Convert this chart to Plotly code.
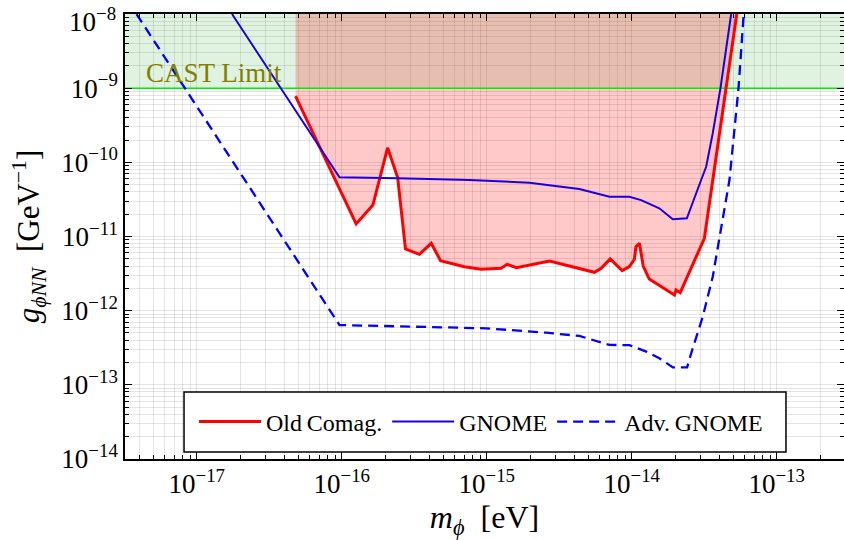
import plotly.graph_objects as go

# ---------------- data ----------------
old_x = [4.8e-17, 1.256e-16, 1.64e-16, 2.07e-16, 2.43e-16, 2.75e-16, 3.43e-16, 4.14e-16,
         4.8e-16, 7.0e-16, 9.15e-16, 1.257e-15, 1.38e-15, 1.6e-15, 2.71e-15, 5.53e-15,
         6.15e-15, 7.1e-15, 8.59e-15, 9.64e-15, 1.043e-14, 1.07e-14, 1.13e-14, 1.2e-14,
         1.32e-14, 1.97e-14, 2.02e-14, 2.16e-14, 3.17e-14, 4.48e-14, 5.3e-14]
old_y = [7.8e-10, 1.48e-11, 2.66e-11, 1.57e-10, 6.25e-11, 6.8e-12, 5.75e-12, 8.1e-12,
         4.72e-12, 3.92e-12, 3.61e-12, 3.73e-12, 4.21e-12, 3.79e-12, 4.68e-12, 3.29e-12,
         3.73e-12, 4.98e-12, 3.46e-12, 3.92e-12, 4.93e-12, 7.3e-12, 8.1e-12, 4.0e-12,
         2.67e-12, 1.63e-12, 1.9e-12, 1.75e-12, 9.46e-12, 1e-9, 1e-8]

gnome_x = [1.75e-17, 9.64e-17, 2.43e-16, 7.6e-16, 1.97e-15, 4.35e-15, 7.02e-15, 9.64e-15,
           1.16e-14, 1.55e-14, 1.92e-14, 2.4e-14, 3.01e-14, 3.26e-14, 3.62e-14, 4.09e-14, 4.85e-14]
gnome_y = [1e-8, 6.28e-11, 6.1e-11, 5.78e-11, 5.32e-11, 4.38e-11, 3.44e-11, 3.44e-11,
           3.1e-11, 2.4e-11, 1.71e-11, 1.76e-11, 5.78e-11, 8.73e-11, 2.47e-10, 9.95e-10, 1e-8]

adv_x = [3.84e-18, 9.64e-17, 3.09e-16, 9.9e-16, 2.57e-15, 4.35e-15, 7.02e-15, 9.64e-15,
         1.26e-14, 1.55e-14, 1.92e-14, 2.41e-14, 2.57e-14, 3.09e-14, 3.62e-14, 4.72e-14,
         5.45e-14, 5.92e-14]
adv_y = [1e-8, 6.4e-13, 6.08e-13, 5.78e-13, 5.04e-13, 4.56e-13, 3.45e-13, 3.42e-13,
         2.8e-13, 2.28e-13, 1.72e-13, 1.72e-13, 2.66e-13, 8.3e-13, 2.87e-12, 5.78e-11,
         1e-9, 1e-8]

cast_limit = 1e-9
y_top = 1e-8

x_decades = [-17, -16, -15, -14, -13]
y_decades = [-14, -13, -12, -11, -10, -9, -8]
x_range = [-17.495, -12.536]
y_range = [-14.0008, -7.9992]

FONT = "Liberation Serif"


def sup_label(e):
    return "10<sup>\u2212%d</sup>" % (-e)


def minor_vals(lo, hi):
    return [m * 10.0 ** d for d in range(lo, hi + 1) for m in range(2, 10)]


x_lo, x_hi = 10 ** x_range[0], 10 ** x_range[1]

fig = go.Figure()

# CAST excluded band
fig.add_trace(go.Scatter(x=[x_lo, x_hi, x_hi, x_lo], y=[cast_limit, cast_limit, y_top, y_top],
                         fill="toself", fillcolor="rgba(0,160,0,0.12)", line=dict(width=0),
                         mode="lines", showlegend=False, hoverinfo="skip"))

# Old comagnetometer excluded region
fill_x = old_x + [old_x[-1], old_x[0]]
fill_y = old_y + [y_top, y_top]
fig.add_trace(go.Scatter(x=fill_x, y=fill_y, fill="toself", fillcolor="rgba(255,0,0,0.21)",
                         line=dict(width=0), mode="lines", showlegend=False, hoverinfo="skip"))

# CAST line
fig.add_trace(go.Scatter(x=[x_lo, x_hi], y=[cast_limit, cast_limit], mode="lines",
                         line=dict(color="#00ee00", width=1.6), showlegend=False, hoverinfo="skip"))

fig.add_trace(go.Scatter(x=old_x, y=old_y, mode="lines", name="Old\u2009Comag.",
                         line=dict(color="#ff0000", width=3)))
fig.add_trace(go.Scatter(x=gnome_x, y=gnome_y, mode="lines", name="GNOME",
                         line=dict(color="#1a00e0", width=2)))
fig.add_trace(go.Scatter(x=adv_x, y=adv_y, mode="lines", name="Adv.\u2009GNOME",
                         line=dict(color="#0000ff", width=2.3, dash="10px,6px")))

fig.add_annotation(x=-17.361, y=-8.795, xref="x", yref="y", text="CAST Limit",
                   showarrow=False, xanchor="left", yanchor="middle",
                   font=dict(family=FONT, size=27, color="#808000"))

# top y tick label, nudged down inside the figure like the reference
fig.add_annotation(x=-0.0097, y=0.9865, xref="paper", yref="paper",
                   text=sup_label(y_decades[-1]), showarrow=False,
                   xanchor="right", yanchor="middle",
                   font=dict(family=FONT, size=27, color="black"))

# legend frame
fig.add_shape(type="rect", xref="paper", yref="paper", x0=0.0821, x1=0.9193,
              y0=0.0157, y1=0.1506, line=dict(color="black", width=1.5),
              fillcolor="white", layer="above")

grid = "rgba(0,0,0,0.10)"
axis_common = dict(type="log", showline=True, linecolor="black", linewidth=1.5,
                   mirror="allticks", ticks="inside", ticklen=7, tickwidth=1,
                   tickcolor="black", showgrid=True, gridcolor=grid, gridwidth=1,
                   zeroline=False, ticklabeloverflow="allow", automargin=False,
                   tickfont=dict(family=FONT, size=27, color="black"))

y_ticktext = [sup_label(d) for d in y_decades[:-1]] + [""]

fig.update_xaxes(**axis_common, range=x_range,
                 tickmode="array", tickvals=[10.0 ** d for d in x_decades],
                 ticktext=[sup_label(d) for d in x_decades],
                 minor=dict(tickmode="array", tickvals=minor_vals(-18, -13), ticks="inside",
                            ticklen=4, tickcolor="black", showgrid=True, gridcolor=grid),
                 title=dict(text="<i>m</i><sub><i>\u03d5</i></sub>\u2002[eV]", standoff=10,
                            font=dict(family=FONT, size=32, color="black")))
fig.update_yaxes(**axis_common, range=y_range,
                 tickmode="array", tickvals=[10.0 ** d for d in y_decades],
                 ticktext=y_ticktext,
                 minor=dict(tickmode="array", tickvals=minor_vals(-14, -9), ticks="inside",
                            ticklen=4, tickcolor="black", showgrid=True, gridcolor=grid),
                 title=dict(text="<i>g</i><sub><i>\u03d5NN</i></sub>\u2002[GeV<sup>\u22121</sup>]",
                            standoff=12, font=dict(family=FONT, size=31, color="black")))

fig.update_layout(
    width=844, height=540,
    margin=dict(l=125, r=0, t=14, b=81, autoexpand=False),
    paper_bgcolor="white", plot_bgcolor="white",
    showlegend=True,
    legend=dict(orientation="h", x=0.096, y=0.0831, xanchor="left", yanchor="middle",
                bgcolor="rgba(0,0,0,0)", borderwidth=0,
                font=dict(family=FONT, size=24, color="black"),
                itemwidth=62, tracegroupgap=0),
)

fig.write_html("out.html")
